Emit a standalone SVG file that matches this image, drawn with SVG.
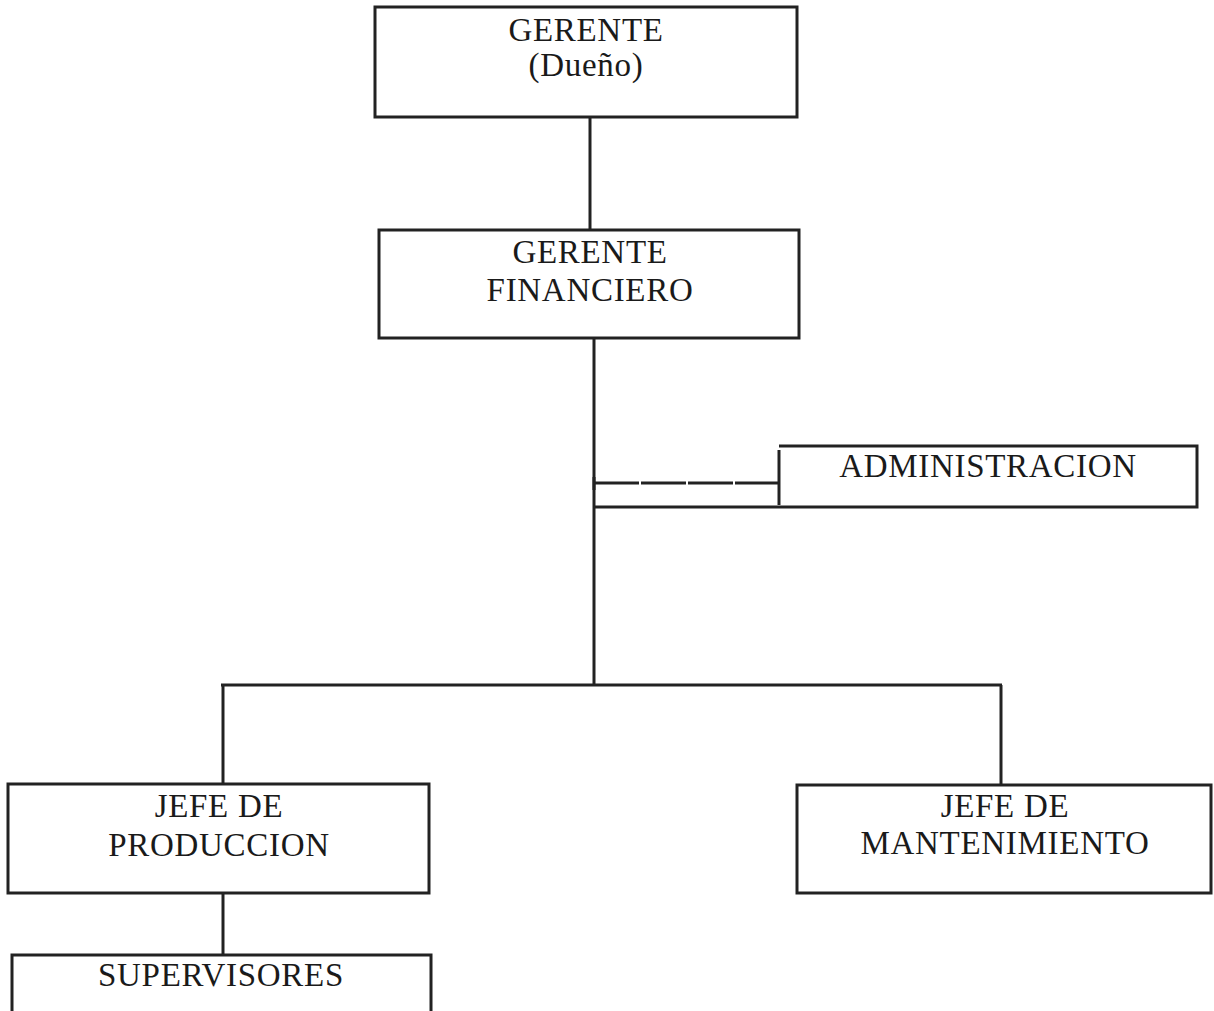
<svg xmlns="http://www.w3.org/2000/svg" width="1214" height="1011" viewBox="0 0 1214 1011">
<style>
.box{fill:none;stroke:#222;stroke-width:3}
.ln{fill:none;stroke:#222;stroke-width:3}
.t{font-family:"Liberation Serif","Times New Roman",serif;font-size:33px;letter-spacing:0.7px;fill:#1a1a1a;text-anchor:middle}
</style>
<rect width="1214" height="1011" fill="#fff"/>
<g id="connectors">
<line class="ln" x1="590" y1="117" x2="590" y2="230"/>
<line class="ln" x1="594" y1="338" x2="594" y2="686"/>
<line class="ln" x1="594" y1="483" x2="780" y2="483" stroke-dasharray="45 2"/>
<line class="ln" x1="594" y1="477" x2="594" y2="490" stroke-width="4"/>
<line class="ln" x1="221" y1="685" x2="1002" y2="685"/>
<line class="ln" x1="223" y1="685" x2="223" y2="784"/>
<line class="ln" x1="1001" y1="685" x2="1001" y2="785"/>
<line class="ln" x1="223" y1="893" x2="223" y2="955"/>
</g>
<g id="gerente">
<rect class="box" x="375" y="7" width="422" height="110"/>
<text class="t" x="586" y="41">GERENTE</text>
<text class="t" x="586" y="76">(Dueño)</text>
</g>
<g id="gerente-financiero">
<rect class="box" x="379" y="230" width="420" height="108"/>
<text class="t" x="590" y="263">GERENTE</text>
<text class="t" x="590" y="301">FINANCIERO</text>
</g>
<g id="administracion">
<path class="box" d="M779 446 H1197 V507 H594"/>
<line class="ln" x1="779" y1="450" x2="779" y2="505"/>
<text class="t" x="988" y="477">ADMINISTRACION</text>
</g>
<g id="jefe-produccion">
<rect class="box" x="8" y="784" width="421" height="109"/>
<text class="t" x="219" y="817">JEFE DE</text>
<text class="t" x="219" y="856">PRODUCCION</text>
</g>
<g id="jefe-mantenimiento">
<rect class="box" x="797" y="785" width="414" height="108"/>
<text class="t" x="1005" y="817">JEFE DE</text>
<text class="t" x="1005" y="854">MANTENIMIENTO</text>
</g>
<g id="supervisores">
<rect class="box" x="12" y="955" width="419" height="80"/>
<text class="t" x="221" y="986">SUPERVISORES</text>
</g>
</svg>
